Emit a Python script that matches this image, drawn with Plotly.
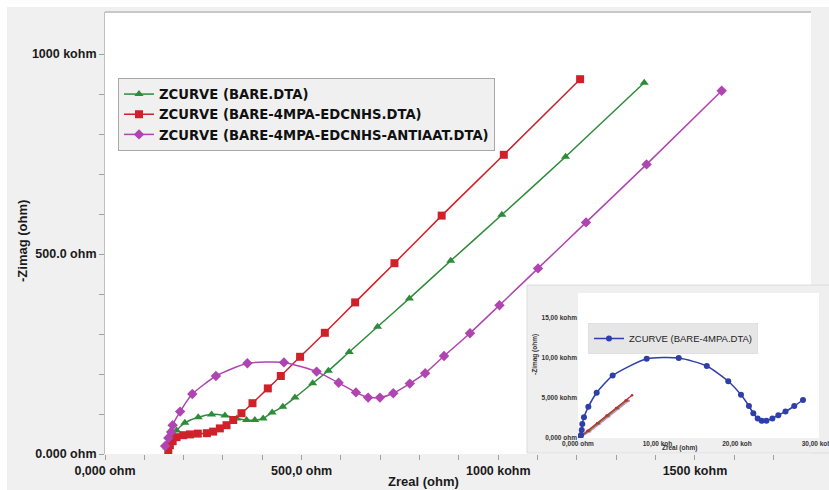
import plotly.graph_objects as go

# ---------------- data (ohm) ----------------
bare_x = [157, 161, 170, 182, 203, 237, 271, 305, 335, 360, 381, 402, 425, 452, 483, 528, 568, 621, 693, 774, 879, 1009, 1171, 1371]
bare_y = [17, 27, 42, 59, 78, 92, 99, 96, 89, 85, 85, 89, 104, 118, 141, 177, 208, 255, 318, 389, 483, 598, 743, 928]

edc_x = [161, 165, 172, 182, 199, 216, 236, 259, 275, 292, 309, 326, 347, 375, 414, 447, 496, 559, 636, 736, 856, 1014, 1208]
edc_y = [10, 22, 32, 42, 47, 49, 51, 52, 56, 64, 72, 85, 102, 127, 164, 195, 243, 303, 379, 477, 596, 748, 937]

anti_x = [153, 161, 168, 172, 191, 222, 282, 362, 455, 538, 594, 638, 669, 699, 733, 775, 814, 862, 928, 1003, 1101, 1223, 1377, 1568]
anti_y = [20, 40, 55, 72, 106, 150, 195, 227, 229, 206, 178, 154, 141, 141, 152, 176, 202, 245, 302, 372, 464, 579, 724, 908]

# inset (ohm)
mpa_x = [300, 380, 470, 540, 750, 1300, 2350, 4360, 8640, 12670, 16200, 18900, 20500, 21500, 22050, 22600, 23100, 23700, 24450, 25200, 26100, 27200, 28300]
mpa_y = [150, 380, 1000, 1750, 2600, 3900, 5650, 7800, 9900, 10000, 9000, 7100, 5400, 4000, 3100, 2450, 2150, 2150, 2450, 2850, 3300, 4000, 4750]

in_red_x = [150, 400, 1200, 2400, 3600, 4800, 6000, 6800]
in_red_y = [0, 300, 900, 1850, 2800, 3750, 4700, 5350]
in_green_x = [150, 450, 1400, 2600, 3800, 5000, 6200]
in_green_y = [0, 250, 900, 1850, 2800, 3750, 4700]
in_pink_x = [150, 500, 1500, 2700, 3900, 5100, 6400]
in_pink_y = [0, 200, 800, 1750, 2700, 3650, 4650]

main_xticks = [0, 500, 1000, 1500]
main_xticktext = ["0,000 ohm", "500,0 ohm", "1000 kohm", "1500 kohm"]
main_yticks = [0, 500, 1000]
main_yticktext = ["0.000 ohm", "500.0 ohm", "1000 kohm"]
main_xminor = [100, 200, 300, 400, 600, 700, 800, 900, 1100, 1200, 1300, 1400, 1600, 1700]
main_yminor = [100, 200, 300, 400, 600, 700, 800, 900]

inset_xticks = [0, 10000, 20000, 30000]
inset_xticktext = ["0,000 ohm", "10,00 koh", "20,00 koh", "30,00 koh"]
inset_yticks = [0, 5000, 10000, 15000]
inset_yticktext = ["0,000 ohm", "5,000 kohm", "10,00 kohm", "15,00 kohm"]

GREEN = "#2E8B3A"
RED = "#D0212A"
MAG = "#B044B0"
BLUE = "#2F3FA8"

W, H = 829, 490
L, R, T, B = 105, 0, 12, 36
PW, PH = W - L - R, H - T - B


def px(x):
    return (x - L) / PW


def py(y):
    return (H - B - y) / PH


fig = go.Figure()

fig.add_trace(go.Scatter(x=bare_x, y=bare_y, mode="lines+markers", name="ZCURVE (BARE.DTA)",
                         line=dict(color=GREEN, width=1.5, shape="spline", smoothing=0.5),
                         marker=dict(symbol="triangle-up", size=8, color=GREEN)))
fig.add_trace(go.Scatter(x=edc_x, y=edc_y, mode="lines+markers", name="ZCURVE (BARE-4MPA-EDCNHS.DTA)",
                         line=dict(color=RED, width=1.5, shape="spline", smoothing=0.5),
                         marker=dict(symbol="square", size=8, color=RED)))
fig.add_trace(go.Scatter(x=anti_x, y=anti_y, mode="lines+markers", name="ZCURVE (BARE-4MPA-EDCNHS-ANTIAAT.DTA)",
                         line=dict(color=MAG, width=1.5, shape="spline", smoothing=0.5),
                         marker=dict(symbol="diamond", size=8, color=MAG)))

# inset traces
for xs, ys, c in [(in_pink_x, in_pink_y, "#E080C0"), (in_green_x, in_green_y, GREEN), (in_red_x, in_red_y, RED)]:
    fig.add_trace(go.Scatter(x=xs, y=ys, xaxis="x2", yaxis="y2", mode="lines+markers", showlegend=False,
                             line=dict(color=c, width=1.2), marker=dict(size=2.5, color=c)))
fig.add_trace(go.Scatter(x=mpa_x, y=mpa_y, xaxis="x2", yaxis="y2", mode="lines+markers",
                         name="ZCURVE (BARE-4MPA.DTA)", legend="legend2",
                         line=dict(color=BLUE, width=1.5, shape="spline", smoothing=0.6),
                         marker=dict(symbol="circle", size=6, color=BLUE)))

tickfont = dict(family="Liberation Sans", size=12.5, color="#1a1a1a", weight="bold")
small = dict(family="Liberation Sans", size=6.5, color="#333333", weight="bold")

xs_per_px = 1 / 0.3933
fig.update_layout(
    width=W, height=H,
    margin=dict(l=L, r=R, t=T, b=B, pad=0, autoexpand=False),
    paper_bgcolor="#f0f0f0",
    plot_bgcolor="white",
    font=dict(family="Liberation Sans", color="#1a1a1a"),
    xaxis=dict(domain=[0, 1], range=[0, PW * xs_per_px], showgrid=False, zeroline=False, showline=False,
               automargin=False,
               tickmode="array", tickvals=main_xticks, ticktext=main_xticktext,
               ticks="outside", ticklen=5, tickcolor="#a0a0a0", tickfont=tickfont,
               minor=dict(tickmode="array", tickvals=main_xminor, ticks="outside", ticklen=5, tickcolor="#a0a0a0")),
    yaxis=dict(domain=[0, 1], range=[0, PH / 0.4], showgrid=False, zeroline=False, showline=True,
               automargin=False, linecolor="#c0c0c0", linewidth=1,
               tickmode="array", tickvals=main_yticks, ticktext=main_yticktext,
               ticks="outside", ticklen=5, tickcolor="#a0a0a0", tickfont=tickfont,
               minor=dict(tickmode="array", tickvals=main_yminor, ticks="outside", ticklen=5, tickcolor="#a0a0a0")),
    xaxis2=dict(domain=[px(578), px(819)], range=[0, (819 - 578) / 7.95 * 1000], anchor="y2",
                showgrid=False, zeroline=False, showline=False, automargin=False, ticklabeloverflow="allow",
                tickmode="array", tickvals=inset_xticks, ticktext=inset_xticktext, ticks="", tickfont=small),
    yaxis2=dict(domain=[py(438), py(293)], range=[0, (438 - 293) / 8 * 1000], anchor="x2",
                showgrid=False, zeroline=False, showline=False, automargin=False,
                tickmode="array", tickvals=inset_yticks, ticktext=inset_yticktext, ticks="", tickfont=small),
    legend=dict(x=px(118), y=py(78), xanchor="left", yanchor="top", bgcolor="#f0f0f0",
                bordercolor="#a8a8a8", borderwidth=1, tracegroupgap=0,
                font=dict(family="DejaVu Sans", size=13.2, color="#111111", weight="bold")),
    legend2=dict(x=px(588), y=py(323), xanchor="left", yanchor="top", bgcolor="#e6e6e6",
                 bordercolor="#e0e0e0", borderwidth=1,
                 font=dict(family="Liberation Sans", size=9.5, color="#222222")),
    showlegend=True,
)

shapes = [
    # white outer strips
    dict(type="rect", xref="paper", yref="paper", x0=px(0), x1=px(W), y0=py(7), y1=py(0),
         fillcolor="white", line=dict(width=0), layer="below"),
    dict(type="rect", xref="paper", yref="paper", x0=px(0), x1=px(7), y0=py(H), y1=py(0),
         fillcolor="white", line=dict(width=0), layer="below"),
    # gray strip right of main plot
    dict(type="rect", xref="paper", yref="paper", x0=px(811), x1=px(W), y0=py(454), y1=py(12),
         fillcolor="#f0f0f0", line=dict(width=0), layer="below"),
    # top border of main plot
    dict(type="line", xref="paper", yref="paper", x0=px(105), x1=px(811), y0=py(12), y1=py(12),
         line=dict(color="#c8c8c8", width=2), layer="below"),
    # inset box
    dict(type="rect", xref="paper", yref="paper", x0=px(527), x1=px(W + 2), y0=py(453), y1=py(285),
         fillcolor="#efefef", line=dict(color="#dcdcdc", width=1), layer="below"),
]
fig.update_layout(shapes=shapes)

ann = [
    dict(text="Zreal (ohm)", x=px(423), y=py(481), font=dict(size=13, weight="bold", color="#1a1a1a")),
    dict(text="-Zimag (ohm)", x=px(23), y=py(241), textangle=-90, font=dict(size=13, weight="bold", color="#1a1a1a")),
    dict(text="Zreal (ohm)", x=px(679), y=py(448), font=dict(size=6.5, weight="bold", color="#333333")),
    dict(text="-Zimag (ohm)", x=px(535), y=py(355), textangle=-90, font=dict(size=6.5, weight="bold", color="#333333")),
]
for a in ann:
    a.update(xref="paper", yref="paper", showarrow=False, xanchor="center", yanchor="middle")
fig.update_layout(annotations=ann)

fig.write_html("out.html", config={"displayModeBar": False},
               post_script="document.body.style.margin='0';document.body.style.overflow='hidden';")
